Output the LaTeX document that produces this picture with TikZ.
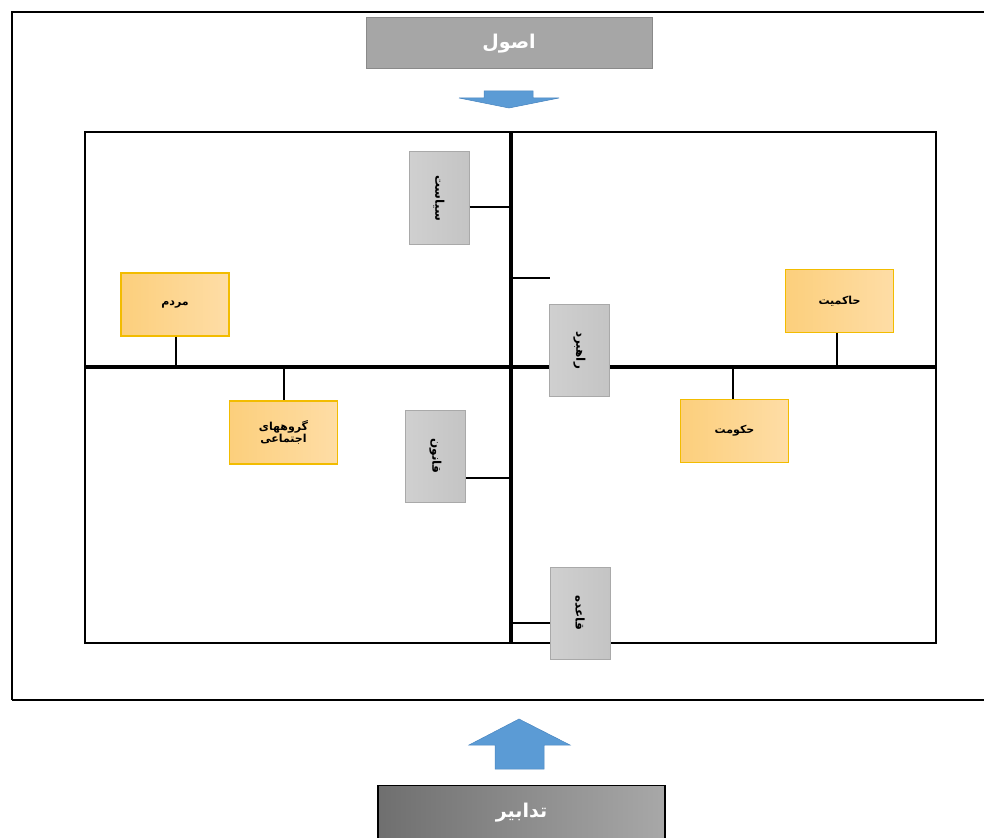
\documentclass[tikz,border=0pt]{standalone}
\usepackage{fontspec}
\newfontfamily\arabicfont[Script=Arabic]{DejaVu Sans}
\TeXXeTstate=1
\definecolor{titlegray}{HTML}{A6A6A6}
\definecolor{titleedge}{HTML}{8A8A8A}
\definecolor{boxgrayL}{HTML}{D0D0D0}
\definecolor{boxgrayR}{HTML}{C4C4C4}
\definecolor{boxgrayedge}{HTML}{A9A9A9}
\definecolor{orL}{HTML}{FCCF7C}
\definecolor{orR}{HTML}{FEDDA6}
\definecolor{oredge}{HTML}{F2BC00}
\definecolor{arrowblue}{HTML}{5B9BD5}
\definecolor{arrowedge}{HTML}{4A86C0}
\definecolor{botL}{HTML}{6F6F6F}
\definecolor{botR}{HTML}{A8A8A8}
\begin{document}
\begin{tikzpicture}[x=1pt,y=-1pt,
  graybox/.style={draw=boxgrayedge, line width=1pt, left color=boxgrayL, right color=boxgrayR,
    minimum width=60pt, minimum height=92pt, inner sep=0pt},
  orbox/.style={draw=oredge, line width=1.2pt, left color=orL, right color=orR,
    minimum width=108pt, minimum height=63pt, inner sep=0pt, align=center},
  vlabel/.style={font=\arabicfont\fontsize{12}{14}\selectfont\bfseries, rotate=-90},
  hlabel/.style={font=\arabicfont\fontsize{11}{12}\selectfont\bfseries, align=center},
  spine/.style={line width=3.2pt, black},
  branch/.style={line width=2.8pt, black},
  blockarrow/.style={fill=arrowblue, draw=arrowedge, line width=0.5pt}]
\useasboundingbox (0,0) rectangle (984,837);
% outer frame
\draw[line width=1.6pt] (12,700) -- (12,12) -- (1000,12);
\draw[line width=1.6pt] (12,700) -- (1000,700);
% title top
\node[draw=titleedge, fill=titlegray, line width=1pt, minimum width=286pt, minimum height=51pt, inner sep=0pt,
  font=\arabicfont\fontsize{19}{22}\selectfont\bfseries, text=white] (osul) at (509,43.5) {\beginR اصول\endR};
% down arrow
\coordinate (dtip) at (509,108);
\draw[blockarrow] (484,91) -- (533,91) -- (533,98) -- (559,98) -- (dtip) -- (459,98) -- (484,98) -- cycle;
% inner frame
\draw[line width=1.3pt] (85,132) rectangle (936,643);
\coordinate (vtop) at (511,132);
\coordinate (vbot) at (511,643);
\coordinate (hl) at (85,367);
\coordinate (hr) at (937,367);
\draw[spine] (vtop) -- (vbot);
\draw[spine] (hl) -- (hr);
% gray boxes
\node[graybox] (siasat) at (439,198) {};
\node[vlabel] at (siasat) {\beginR سیاست\endR};
\node[graybox] (rahbord) at (579.5,350) {};
\node[vlabel] at (rahbord) {\beginR راهبرد\endR};
\node[graybox] (ghanun) at (435.5,456) {};
\node[vlabel] at (ghanun) {\beginR قانون\endR};
\node[graybox] (ghaede) at (580,613) {};
\node[vlabel] at (ghaede) {\beginR قاعده\endR};
% branches to spine
\coordinate (s1) at (511,207);
\coordinate (s2) at (511,278);
\coordinate (t2) at (550,278);
\coordinate (s3) at (511,478);
\coordinate (s4) at (511,623);
\draw[branch] (siasat.east |- s1) -- (s1);
\draw[branch] (s2) -- (t2);
\draw[branch] (ghanun.east |- s3) -- (s3);
\draw[branch] (s4) -- (ghaede.west |- s4);
% orange boxes
\node[orbox] (mardom) at (175,304.5) {};
\node[hlabel] at (mardom) {\beginR مردم\endR};
\node[orbox] (goruh) at (283.5,432.5) {};
\node[hlabel] at (goruh) {\beginR گروههای\endR\\\beginR اجتماعی\endR};
\node[orbox] (hokumat) at (734.5,431) {};
\node[hlabel] at (hokumat) {\beginR حکومت\endR};
\node[orbox] (hakemiat) at (839.5,301) {};
\node[hlabel] at (hakemiat) {\beginR حاکمیت\endR};
\coordinate (h1) at (176,367);
\coordinate (h2) at (284,367);
\coordinate (h3) at (733,367);
\coordinate (h4) at (837,367);
\draw[branch] (mardom.south -| h1) -- (h1);
\draw[branch] (h2) -- (goruh.north -| h2);
\draw[branch] (h3) -- (hokumat.north -| h3);
\draw[branch] (hakemiat.south -| h4) -- (h4);
% up arrow
\coordinate (utip) at (519,719);
\draw[blockarrow] (495,769) -- (544,769) -- (544,745) -- (570,745) -- (utip) -- (469,745) -- (495,745) -- cycle;
% bottom title
\node[draw=black, line width=1.2pt, left color=botL, right color=botR, minimum width=287pt, minimum height=60pt,
  inner sep=0pt, anchor=north] (tadabir) at (521.5,785) {};
\node[font=\arabicfont\fontsize{19}{22}\selectfont\bfseries, text=white] at (521.5,813) {\beginR تدابیر\endR};
\end{tikzpicture}
\end{document}
